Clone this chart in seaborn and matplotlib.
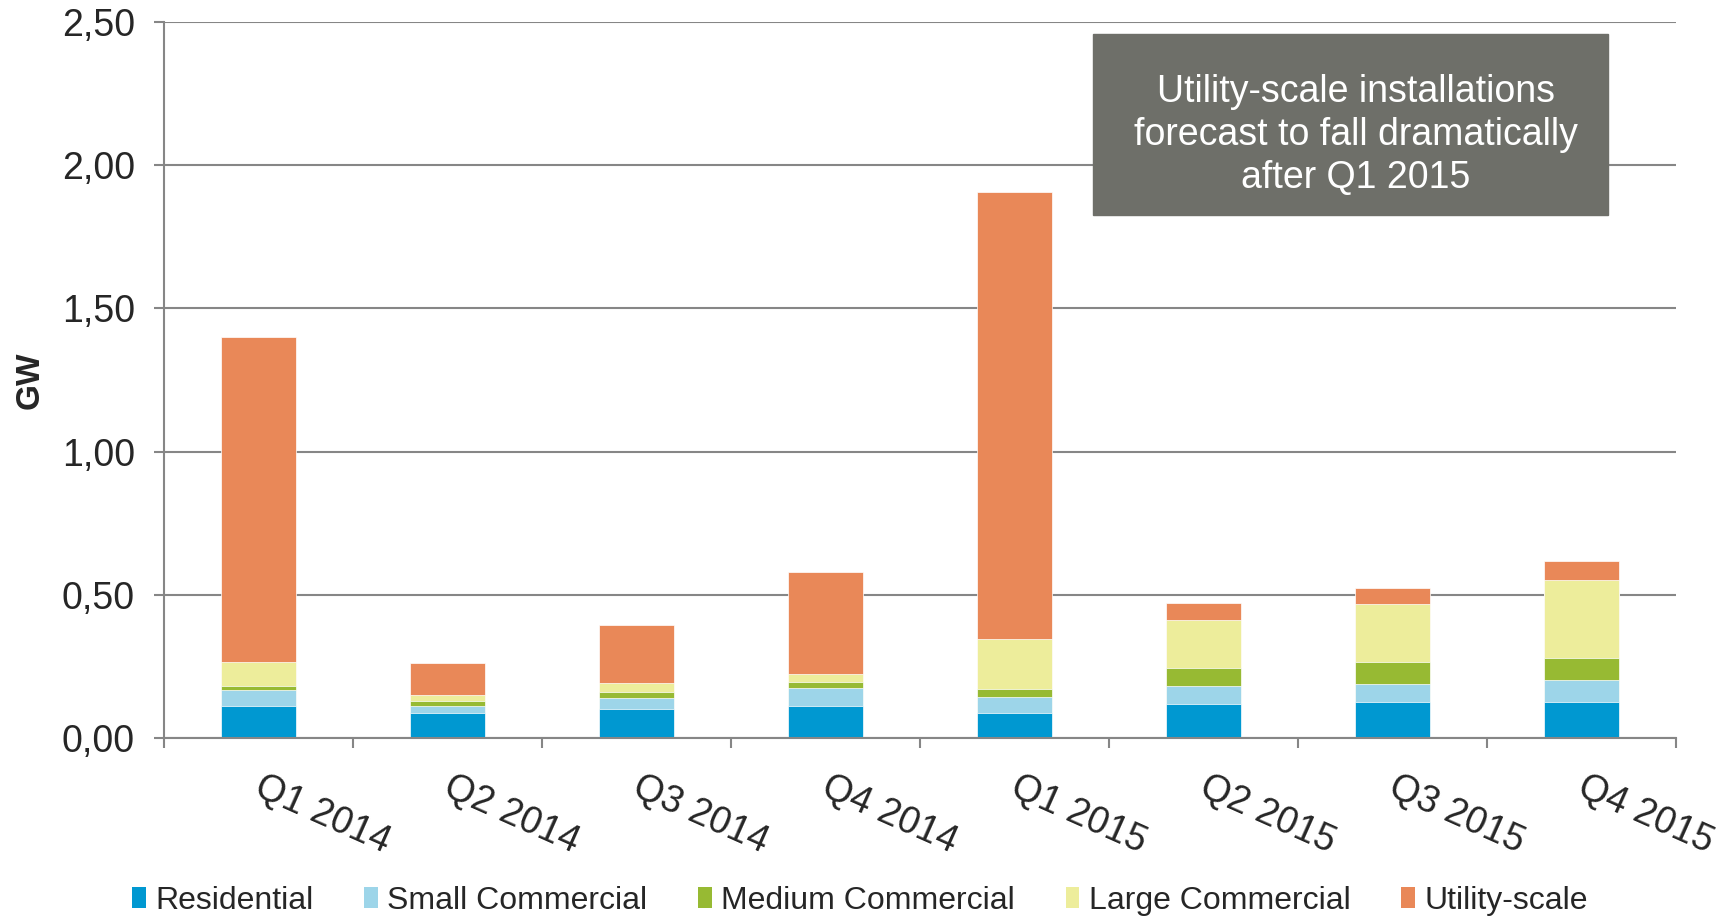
import seaborn as sns
import pandas as pd
import numpy as np
import matplotlib.pyplot as plt
from matplotlib.patches import Rectangle, Patch

quarters = ['Q1 2014', 'Q2 2014', 'Q3 2014', 'Q4 2014',
            'Q1 2015', 'Q2 2015', 'Q3 2015', 'Q4 2015']
residential = [0.111, 0.089, 0.100, 0.110, 0.089, 0.119, 0.125, 0.127]
small_commercial = [0.056, 0.024, 0.041, 0.064, 0.054, 0.061, 0.065, 0.074]
medium_commercial = [0.013, 0.015, 0.020, 0.022, 0.027, 0.063, 0.074, 0.077]
large_commercial = [0.085, 0.023, 0.031, 0.029, 0.174, 0.168, 0.203, 0.275]
utility_scale = [1.135, 0.110, 0.203, 0.355, 1.562, 0.062, 0.058, 0.064]

series = ['Residential', 'Small Commercial', 'Medium Commercial',
          'Large Commercial', 'Utility-scale']
colors = ['#0098d1', '#9dd5e9', '#97ba33', '#eded9b', '#e98858']
ytick_labels = ['0,00', '0,50', '1,00', '1,50', '2,00', '2,50']
note = 'Utility-scale installations\nforecast to fall dramatically\nafter Q1 2015'

df = pd.DataFrame({'Residential': residential,
                   'Small Commercial': small_commercial,
                   'Medium Commercial': medium_commercial,
                   'Large Commercial': large_commercial,
                   'Utility-scale': utility_scale}, index=quarters)
# stacked bars: draw cumulative totals, tallest first
cum = df[series].cumsum(axis=1)
cum['Quarter'] = quarters

sns.set_style('white')
plt.rcParams['font.family'] = ['Liberation Sans', 'DejaVu Sans']

W, H = 1733, 918
fig = plt.figure(figsize=(W / 100, H / 100), dpi=100)
ax = fig.add_axes([164 / W, 1 - 738 / H, (1676 - 164) / W, (738 - 22) / H])

gray = '#868686'
for name, col in reversed(list(zip(series, colors))):
    sns.barplot(data=cum, x='Quarter', y=name, color=col, width=0.4,
                saturation=1, errorbar=None, edgecolor='white',
                linewidth=0.5, ax=ax)

ax.set_ylim(0, 2.5)
ax.set_xlim(-0.5, 7.5)
ax.set_yticks(np.arange(0, 2.51, 0.5))
ax.set_yticklabels(ytick_labels, fontsize=27)
ax.yaxis.grid(True, color=gray, linewidth=1.5)
ax.set_axisbelow(True)

ax.set_xticks(np.arange(len(quarters)) + 0.03)
ax.set_xticklabels(quarters, fontsize=27)
for lab in ax.get_xticklabels():
    lab.set_rotation(-24)
    lab.set_ha('left')
    lab.set_va('top')
    lab.set_rotation_mode('anchor')
ax.set_xticks(np.arange(-0.5, 8, 1), minor=True)
ax.tick_params(axis='x', which='major', length=0, pad=22)
ax.tick_params(axis='x', which='minor', length=7, width=1.5, color=gray,
               bottom=True)
ax.tick_params(axis='y', length=7, width=1.5, color=gray, left=True, pad=14)

ax.set_xlabel('')
ax.set_ylabel('GW', fontsize=24, fontweight='bold')
ax.yaxis.set_label_coords(-0.078, 0.5)

for s in ['top', 'right']:
    ax.spines[s].set_visible(False)
for s in ['left', 'bottom']:
    ax.spines[s].set_color(gray)
    ax.spines[s].set_linewidth(1.5)

# annotation box
fig.add_artist(Rectangle((1093 / W, 1 - 215 / H), 515 / W, 181 / H,
                         transform=fig.transFigure, color='#6e6f69', zorder=3))
fig.text(1356 / W, 1 - 135 / H, note, color='white', fontsize=27,
         ha='center', va='center', linespacing=1.24, zorder=4)

handles = [Patch(facecolor=c, edgecolor='none', label=n)
           for n, c in zip(series, colors)]
fig.legend(handles=handles, loc='center', ncol=5, frameon=False,
           bbox_to_anchor=(860 / W, 1 - 901 / H), fontsize=23,
           handlelength=0.43, handleheight=0.65, handletextpad=0.3,
           columnspacing=1.58)

plt.savefig('out.png', dpi=100)
